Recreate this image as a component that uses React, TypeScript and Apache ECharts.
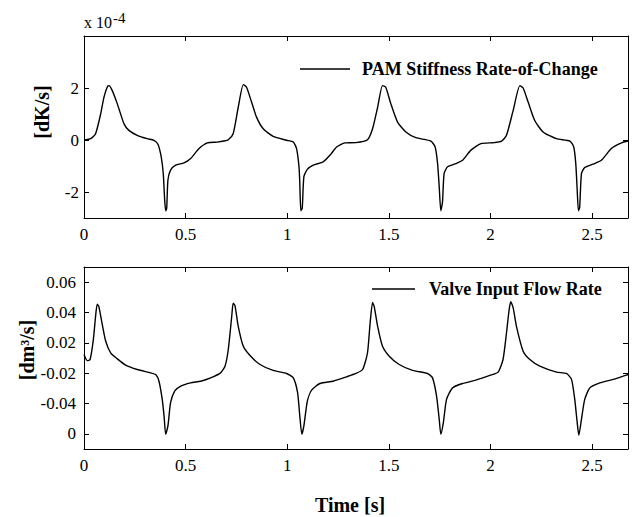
import React, { useEffect, useRef } from "react";
import * as echarts from "echarts";

// PAM stiffness rate-of-change (units of 1e-4 dK/s)
const stiffTime = [
  0, 0.033, 0.057, 0.082, 0.098, 0.115, 0.123, 0.139, 0.164, 0.197, 0.221, 0.262, 0.311, 0.344, 0.364, 0.38, 0.39,
  0.397, 0.402, 0.407, 0.413, 0.426, 0.451, 0.492, 0.525, 0.566, 0.607, 0.656, 0.689, 0.71, 0.734, 0.759, 0.784,
  0.8, 0.825, 0.849, 0.882, 0.931, 0.997, 1.03, 1.046, 1.058, 1.062, 1.067, 1.074, 1.082, 1.099, 1.128, 1.177,
  1.21, 1.243, 1.284, 1.338, 1.395, 1.42, 1.445, 1.469, 1.485, 1.51, 1.543, 1.584, 1.633, 1.707, 1.728, 1.74,
  1.748, 1.756, 1.764, 1.772, 1.789, 1.83, 1.863, 1.904, 1.953, 2.018, 2.055, 2.079, 2.112, 2.145, 2.161, 2.186,
  2.218, 2.259, 2.325, 2.391, 2.41, 2.42, 2.427, 2.433, 2.439, 2.448, 2.464, 2.505, 2.546, 2.595, 2.645, 2.678,
];
const stiffValue = [
  0, 0.05, 0.24, 1.0, 1.64, 2.05, 2.09, 1.9, 1.39, 0.62, 0.37, 0.18, 0.05, -0.01, -0.16, -0.65, -1.29,
  -2.31, -2.72, -2.62, -1.54, -1.16, -0.97, -0.88, -0.71, -0.33, -0.11, -0.08, -0.04, 0.01, 0.24, 1.26, 2.13,
  2.03, 1.45, 0.88, 0.43, 0.14, -0.01, -0.08, -0.33, -1.03, -1.67, -2.72, -2.62, -1.41, -1.13, -0.97, -0.84,
  -0.59, -0.27, -0.11, -0.1, 0.01, 0.43, 1.26, 2.09, 2.03, 1.39, 0.69, 0.31, 0.09, -0.04, -0.27, -0.91,
  -1.8, -2.72, -2.4, -1.29, -1.03, -0.91, -0.78, -0.39, -0.14, -0.1, -0.04, 0.18, 1.14, 2.09, 2.0, 1.45,
  0.75, 0.31, 0.05, -0.04, -0.27, -0.91, -1.92, -2.72, -2.6, -1.29, -1.06, -0.93, -0.78, -0.33, -0.11, -0.04,
];

// Valve input flow rate (plotted on the axis scale)
const flowTime = [
  0, 0.016, 0.03, 0.046, 0.057, 0.065, 0.073, 0.09, 0.107, 0.131, 0.164, 0.205, 0.262, 0.328, 0.353, 0.369,
  0.385, 0.394, 0.402, 0.413, 0.426, 0.446, 0.476, 0.525, 0.574, 0.623, 0.672, 0.694, 0.71, 0.727, 0.734,
  0.743, 0.759, 0.784, 0.817, 0.866, 0.931, 0.997, 1.03, 1.051, 1.062, 1.072, 1.082, 1.099, 1.12, 1.161,
  1.226, 1.292, 1.338, 1.371, 1.395, 1.408, 1.42, 1.428, 1.445, 1.469, 1.502, 1.551, 1.617, 1.69, 1.715,
  1.735, 1.748, 1.756, 1.768, 1.784, 1.813, 1.863, 1.928, 1.997, 2.038, 2.062, 2.079, 2.092, 2.1, 2.112,
  2.128, 2.161, 2.194, 2.243, 2.325, 2.374, 2.399, 2.415, 2.427, 2.435, 2.448, 2.464, 2.489, 2.538, 2.604,
  2.653, 2.678,
];
const flowValue = [
  0.0123, 0.0083, 0.009, 0.0221, 0.0375, 0.0455, 0.044, 0.032, 0.021, 0.0134, 0.0094, 0.0053, 0.0024, 0.0002,
  -0.0009, -0.0053, -0.0173, -0.0283, -0.0403, -0.0348, -0.0195, -0.0118, -0.0085, -0.0064, -0.0053, -0.0031,
  0.0002, 0.0046, 0.0156, 0.0375, 0.0462, 0.0445, 0.0309, 0.0177, 0.0116, 0.0057, 0.0018, -0.0002, -0.0031,
  -0.0129, -0.0283, -0.0403, -0.0348, -0.0184, -0.0112, -0.0068, -0.0053, -0.0024, -0.0002, 0.0024, 0.0133,
  0.033, 0.0466, 0.044, 0.0309, 0.0177, 0.0112, 0.0057, 0.0018, -0.0002, -0.0031, -0.0151, -0.0304, -0.0403,
  -0.033, -0.0173, -0.0097, -0.0068, -0.0046, -0.0015, 0.0007, 0.009, 0.0265, 0.0418, 0.0471, 0.043, 0.0309,
  0.0145, 0.009, 0.0046, 0.0007, -0.0002, -0.0041, -0.0173, -0.0326, -0.041, -0.0304, -0.0173, -0.0097,
  -0.0064, -0.0041, -0.002, -0.0009,
];

const timeTicks = [0, 0.5, 1, 1.5, 2, 2.5];
const stiffTicks = [-2, 0, 2];
const flowTickValues = [-0.04, -0.02, 0, 0.02, 0.04, 0.06];
const flowTickLabels = ["0", "-0.04", "-0.02", "0.02", "0.04", "0.06"];

const SERIF = "Liberation Serif";

export default function App() {
  const ref = useRef<HTMLDivElement>(null);
  useEffect(() => {
    if (!ref.current) return;
    const chart = echarts.init(ref.current, undefined, { renderer: "svg" });
    const X_MAX = 2.677;
    const axisLine = { show: true, onZero: false, lineStyle: { color: "#000", width: 1 } };
    const tickIn = (vals: number[]) => ({
      show: true,
      inside: true,
      length: 5,
      customValues: vals,
      lineStyle: { color: "#000", width: 1 },
    });
    const labelStyle = { color: "#000", fontFamily: SERIF, fontSize: 17 };
    const xBottom = (grid: number) => ({
      type: "value",
      gridIndex: grid,
      position: "bottom",
      min: 0,
      max: X_MAX,
      axisLine,
      axisTick: tickIn(timeTicks),
      axisLabel: { ...labelStyle, margin: 8, customValues: timeTicks, formatter: (v: number) => String(v) },
      splitLine: { show: false },
    });
    const xTop = (grid: number) => ({
      type: "value",
      gridIndex: grid,
      position: "top",
      min: 0,
      max: X_MAX,
      axisLine,
      axisTick: tickIn(timeTicks),
      axisLabel: { show: false },
      splitLine: { show: false },
    });
    const flowLabel = (v: number) => {
      const i = flowTickValues.findIndex((t) => Math.abs(t - v) < 1e-6);
      return i >= 0 ? flowTickLabels[i] : "";
    };
    const legendText = { color: "#000", fontFamily: SERIF, fontSize: 18, fontWeight: "bold" };
    const option: any = {
      animation: false,
      backgroundColor: "#fff",
      grid: [
        { left: 84, right: 5, top: 36, height: 182 },
        { left: 84, right: 5, top: 267, height: 182 },
      ],
      xAxis: [xBottom(0), xTop(0), xBottom(1), xTop(1)],
      yAxis: [
        {
          type: "value",
          gridIndex: 0,
          position: "left",
          min: -3,
          max: 4,
          axisLine,
          axisTick: tickIn(stiffTicks),
          axisLabel: { ...labelStyle, margin: 5, customValues: stiffTicks, formatter: (v: number) => String(v) },
          splitLine: { show: false },
        },
        {
          type: "value",
          gridIndex: 0,
          position: "right",
          min: -3,
          max: 4,
          axisLine,
          axisTick: tickIn(stiffTicks),
          axisLabel: { show: false },
          splitLine: { show: false },
        },
        {
          type: "value",
          gridIndex: 1,
          position: "left",
          min: -0.05,
          max: 0.07,
          axisLine,
          axisTick: tickIn(flowTickValues),
          axisLabel: { ...labelStyle, margin: 8, customValues: flowTickValues, formatter: flowLabel },
          splitLine: { show: false },
        },
        {
          type: "value",
          gridIndex: 1,
          position: "right",
          min: -0.05,
          max: 0.07,
          axisLine,
          axisTick: tickIn(flowTickValues),
          axisLabel: { show: false },
          splitLine: { show: false },
        },
      ],
      legend: [
        {
          data: ["PAM Stiffness Rate-of-Change"],
          left: 295,
          top: 55,
          icon: "rect",
          itemWidth: 50,
          itemHeight: 1.3,
          itemStyle: { color: "#000" },
          textStyle: { ...legendText, padding: [0, 0, 0, 7] },
        },
        {
          data: ["Valve Input Flow Rate"],
          left: 367,
          top: 275,
          icon: "rect",
          itemWidth: 43,
          itemHeight: 1.3,
          itemStyle: { color: "#000" },
          textStyle: { ...legendText, padding: [0, 0, 0, 9] },
        },
      ],
      series: [
        {
          name: "PAM Stiffness Rate-of-Change",
          type: "line",
          xAxisIndex: 0,
          yAxisIndex: 0,
          symbol: "none",
          smooth: 0.2,
          lineStyle: { color: "#000", width: 1.4 },
          itemStyle: { color: "#000" },
          data: stiffTime.map((t, i) => [t, stiffValue[i]]),
        },
        {
          name: "Valve Input Flow Rate",
          type: "line",
          xAxisIndex: 2,
          yAxisIndex: 2,
          symbol: "none",
          smooth: 0.2,
          lineStyle: { color: "#000", width: 1.4 },
          itemStyle: { color: "#000" },
          data: flowTime.map((t, i) => [t, flowValue[i]]),
        },
      ],
      graphic: [
        {
          type: "text",
          left: 84,
          top: 10,
          style: {
            text: "x 10{sup|-4}",
            fill: "#000",
            fontFamily: SERIF,
            fontSize: 16,
            rich: { sup: { fontSize: 15, fontFamily: SERIF, fill: "#000", verticalAlign: "top", padding: [0, 0, 9, 1] } },
          },
        },
        {
          type: "text",
          x: 42,
          y: 112,
          rotation: Math.PI / 2,
          style: {
            text: "[dK/s]",
            fill: "#000",
            fontFamily: SERIF,
            fontSize: 20,
            fontWeight: "bold",
            align: "center",
            verticalAlign: "middle",
          },
        },
        {
          type: "text",
          x: 27,
          y: 350,
          rotation: Math.PI / 2,
          style: {
            text: "[dm³/s]",
            fill: "#000",
            fontFamily: SERIF,
            fontSize: 20,
            fontWeight: "bold",
            align: "center",
            verticalAlign: "middle",
          },
        },
        {
          type: "text",
          x: 350,
          y: 505,
          style: {
            text: "Time [s]",
            fill: "#000",
            fontFamily: SERIF,
            fontSize: 20,
            fontWeight: "bold",
            align: "center",
            verticalAlign: "middle",
          },
        },
      ],
    };
    chart.setOption(option);
    return () => chart.dispose();
  }, []);
  return (
    <div
      ref={ref}
      style={{ position: "fixed", left: 0, top: 0, width: 633, height: 517, background: "#fff" }}
    />
  );
}
